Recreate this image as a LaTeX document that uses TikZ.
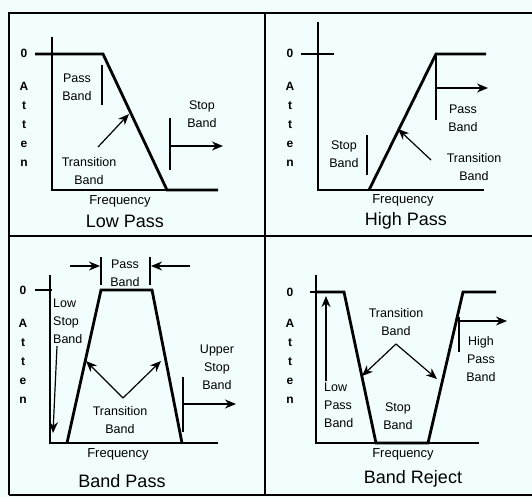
\documentclass[tikz,border=0pt]{standalone}
\usepackage{fontspec}
\setmainfont{Liberation Sans}
\usetikzlibrary{arrows.meta}
\definecolor{paper}{RGB}{242,253,253}

\begin{document}
\begin{tikzpicture}[x=1pt, y=-1pt,
  frame/.style={line width=1.4pt},
  axis/.style={line width=1.2pt},
  resp/.style={line width=2.8pt, line join=miter},
  bar/.style={line width=1.1pt},
  arr/.style={-{Stealth[length=11pt, width=9pt, inset=3.5pt]}, line width=1.2pt},
  lbl/.style={font=\fontsize{12.5}{18}\selectfont, align=center, inner sep=0pt},
  freq/.style={font=\fontsize{13}{15}\selectfont, inner sep=0pt},
  title/.style={font=\fontsize{18}{20}\selectfont, inner sep=0pt},
  atten/.style={font=\fontsize{12}{19}\selectfont\bfseries, align=center, inner sep=0pt}
]
\fill[paper] (0,0) rectangle (532,497);
\useasboundingbox (0,0) rectangle (532,497);

% frame
\draw[frame] (9,495) -- (9,13) -- (534,13);
\draw[frame] (9,495) -- (534,495);
\draw[frame] (265,13) -- (265,495);
\draw[frame] (9,236) -- (534,236);

% low pass
\draw[axis] (52,37) -- (52,190) -- (218,190);
\node[atten] (zeroA) at (24,53) {0};
\node[atten] (attA) at (24,124) {A\\t\\t\\e\\n};
\draw[resp] (35,54) -- (103,54) -- (167,190) -- (218,190);
\node[lbl] (passA) at (77,87) {Pass\\Band};
\draw[bar] (102,65) -- (102,105);
\node[lbl] (transA) at (89,171) {Transition\\Band};
\coordinate (transAs) at (98,147);
\coordinate (transAe) at (129,114);
\draw[arr] (transAs) -- (transAe);
\node[lbl] (stopA) at (202,114) {Stop\\Band};
\draw[bar] (170,118) -- (170,170);
\coordinate (stopAs) at (170,146);
\coordinate (stopAe) at (223,146);
\draw[arr] (stopAs) -- (stopAe);
\node[freq] (freqA) at (120,201) {Frequency};
\node[title] (nameA) at (125,221) {Low Pass};

% high pass
\draw[axis] (318,22) -- (318,190) -- (484,190);
\node[atten] (zeroB) at (290,53) {0};
\node[atten] (attB) at (290,124) {A\\t\\t\\e\\n};
\draw[axis] (301,54) -- (334,54);
\draw[line width=1.8pt] (318,190) -- (369,190);
\draw[resp] (369,190) -- (436,54) -- (486,54);
\draw[bar] (436,54) -- (436,120);
\coordinate (passBs) at (436,88);
\coordinate (passBe) at (488,88);
\draw[arr] (passBs) -- (passBe);
\node[lbl] (passB) at (463,118) {Pass\\Band};
\node[lbl] (transB) at (474,167) {Transition\\Band};
\coordinate (transBs) at (431,160);
\coordinate (transBe) at (398,129);
\draw[arr] (transBs) -- (transBe);
\node[lbl] (stopB) at (344,154) {Stop\\Band};
\draw[bar] (367,135) -- (367,175);
\node[freq] (freqB) at (403,200) {Frequency};
\node[title] (nameB) at (406,221) {High Pass};

% band pass
\draw[axis] (50,275) -- (50,443) -- (218,443);
\node[atten] (zeroC) at (23,290) {0};
\node[atten] (attC) at (23,361) {A\\t\\t\\e\\n};
\draw[axis] (35,290) -- (52,290);
\draw[resp] (67,443) -- (101,290) -- (152,290) -- (182,443);
\node[lbl] (passC) at (125,273) {Pass\\Band};
\draw[bar] (101,257) -- (101,285);
\draw[bar] (150,257) -- (150,285);
\coordinate (passCl) at (70,266);
\coordinate (passCr) at (190,266);
\draw[arr] (passCl) -- (100,266);
\draw[arr] (passCr) -- (151,266);
\node[lbl, anchor=west, align=left] (lowC) at (53,321) {Low\\Stop\\Band};
\coordinate (lowCs) at (57,346);
\coordinate (lowCe) at (53,433);
\draw[arr] (lowCs) -- (lowCe);
\node[lbl] (transC) at (120,420) {Transition\\Band};
\coordinate (transCs) at (123,398);
\coordinate (transCl) at (86,361);
\coordinate (transCr) at (161,361);
\draw[arr] (transCs) -- (transCl);
\draw[arr] (transCs) -- (transCr);
\node[lbl] (upC) at (217,367) {Upper\\Stop\\Band};
\draw[bar] (183,377) -- (183,432);
\coordinate (upCs) at (183,404);
\coordinate (upCe) at (236,404);
\draw[arr] (upCs) -- (upCe);
\node[freq] (freqC) at (118,454) {Frequency};
\node[title] (nameC) at (122,481) {Band Pass};

% band reject
\draw[axis] (316,275) -- (316,443) -- (479,443);
\node[atten] (zeroD) at (290,292) {0};
\node[atten] (attD) at (290,361) {A\\t\\t\\e\\n};
\draw[axis] (310,292) -- (316,292);
\draw[resp] (316,292) -- (344,292) -- (376,443) -- (428,443) -- (463,292) -- (496,292);
\node[lbl, anchor=west, align=left] (lowD) at (324,405) {Low\\Pass\\Band};
\coordinate (lowDs) at (326,381);
\coordinate (lowDe) at (326,296);
\draw[arr] (lowDs) -- (lowDe);
\node[lbl] (transD) at (396,322) {Transition\\Band};
\coordinate (transDs) at (396,344);
\coordinate (transDl) at (362,376);
\coordinate (transDr) at (437,379);
\draw[arr] (transDs) -- (transDl);
\draw[arr] (transDs) -- (transDr);
\node[lbl] (stopD) at (398,416) {Stop\\Band};
\node[lbl] (highD) at (481,359) {High\\Pass\\Band};
\draw[bar] (459,317) -- (459,352);
\coordinate (highDs) at (459,321);
\coordinate (highDe) at (507,321);
\draw[arr] (highDs) -- (highDe);
\node[freq] (freqD) at (403,454) {Frequency};
\node[title] (nameD) at (413,479) {Band Reject};
\end{tikzpicture}
\end{document}
